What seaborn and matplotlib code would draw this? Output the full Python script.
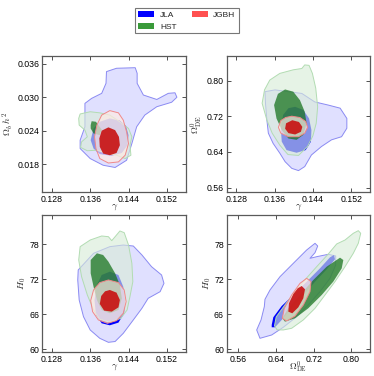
import matplotlib
matplotlib.use("Agg")
import matplotlib.pyplot as plt
from matplotlib.patches import Patch
import seaborn as sns

# --- contour outlines (data units) ---
# panel: gamma vs Omega_b h^2
TL_JLA_2S = [(0.1394, 0.0346), (0.1415, 0.0352), (0.1454, 0.0353), (0.1458, 0.0343), (0.1458, 0.0325),
             (0.1471, 0.0304), (0.1499, 0.0296), (0.1523, 0.0307), (0.1537, 0.0308), (0.1541, 0.0300),
             (0.1530, 0.0291), (0.1499, 0.0283), (0.1474, 0.0268), (0.1457, 0.0247), (0.1447, 0.0217),
             (0.1436, 0.0187), (0.1412, 0.0174), (0.1387, 0.0178), (0.1360, 0.0190), (0.1339, 0.0208),
             (0.1339, 0.0223), (0.1349, 0.0247), (0.1349, 0.0289), (0.1363, 0.0298), (0.1384, 0.0307),
             (0.1393, 0.0325)]
TL_JLA_1S = [(0.1401, 0.0262), (0.1422, 0.0258), (0.1435, 0.0248), (0.1440, 0.0232), (0.1438, 0.0214),
             (0.1426, 0.0200), (0.1405, 0.0195), (0.1380, 0.0198), (0.1367, 0.0208), (0.1361, 0.0223),
             (0.1367, 0.0244), (0.1380, 0.0256)]
TL_HST_2S = [(0.1339, 0.0270), (0.1360, 0.0274), (0.1380, 0.0272), (0.1401, 0.0268), (0.1422, 0.0256),
             (0.1440, 0.0244), (0.1447, 0.0229), (0.1443, 0.0214), (0.1445, 0.0196), (0.1433, 0.0190),
             (0.1415, 0.0196), (0.1394, 0.0199), (0.1374, 0.0205), (0.1354, 0.0204), (0.1340, 0.0210),
             (0.1342, 0.0220), (0.1354, 0.0229), (0.1349, 0.0241), (0.1337, 0.0250), (0.1336, 0.0262)]
TL_HST_1S = [(0.1363, 0.0257), (0.1372, 0.0256), (0.1377, 0.0250), (0.1384, 0.0242), (0.1380, 0.0232),
             (0.1367, 0.0235), (0.1361, 0.0244), (0.1361, 0.0250)]
TL_JGBH_2S = [(0.1401, 0.0276), (0.1419, 0.0272), (0.1429, 0.0259), (0.1436, 0.0238), (0.1440, 0.0217),
              (0.1433, 0.0196), (0.1419, 0.0184), (0.1398, 0.0182), (0.1380, 0.0190), (0.1372, 0.0208),
              (0.1369, 0.0229), (0.1374, 0.0250), (0.1384, 0.0268)]
TL_JGBH_1S = [(0.1398, 0.0246), (0.1412, 0.0241), (0.1420, 0.0229), (0.1422, 0.0214), (0.1415, 0.0200),
              (0.1401, 0.0196), (0.1387, 0.0199), (0.1380, 0.0211), (0.1379, 0.0226), (0.1384, 0.0240)]

# panel: gamma vs Omega_DE
TR_JLA_2S = [(0.1340, 0.775), (0.1361, 0.779), (0.1417, 0.771), (0.1444, 0.752), (0.1472, 0.745),
             (0.1497, 0.738), (0.1511, 0.715), (0.1511, 0.693), (0.1500, 0.674), (0.1479, 0.667),
             (0.1458, 0.652), (0.1437, 0.633), (0.1423, 0.607), (0.1410, 0.598), (0.1396, 0.603),
             (0.1382, 0.618), (0.1371, 0.637), (0.1357, 0.659), (0.1347, 0.682), (0.1344, 0.711),
             (0.1341, 0.749)]
TR_JLA_1S = [(0.1403, 0.741), (0.1420, 0.734), (0.1432, 0.715), (0.1437, 0.689), (0.1436, 0.663),
             (0.1425, 0.644), (0.1406, 0.638), (0.1385, 0.644), (0.1375, 0.663), (0.1373, 0.693),
             (0.1378, 0.723), (0.1389, 0.738)]
TR_HST_2S = [(0.1334, 0.749), (0.1339, 0.779), (0.1350, 0.801), (0.1371, 0.816), (0.1399, 0.824),
             (0.1417, 0.827), (0.1423, 0.835), (0.1432, 0.834), (0.1439, 0.816), (0.1446, 0.783),
             (0.1450, 0.741), (0.1447, 0.704), (0.1440, 0.676), (0.1429, 0.652), (0.1410, 0.632),
             (0.1388, 0.634), (0.1371, 0.655), (0.1355, 0.682), (0.1344, 0.711)]
TR_HST_1S = [(0.1382, 0.780), (0.1399, 0.775), (0.1413, 0.756), (0.1423, 0.730), (0.1427, 0.704),
             (0.1420, 0.678), (0.1406, 0.667), (0.1389, 0.670), (0.1375, 0.689), (0.1364, 0.715),
             (0.1359, 0.745), (0.1367, 0.770)]
TR_JGBH_2S = [(0.1396, 0.720), (0.1413, 0.717), (0.1425, 0.708), (0.1429, 0.695), (0.1423, 0.682),
              (0.1410, 0.674), (0.1389, 0.674), (0.1373, 0.682), (0.1368, 0.695), (0.1373, 0.710),
              (0.1383, 0.717)]
TR_JGBH_1S = [(0.1397, 0.711), (0.1411, 0.707), (0.1418, 0.696), (0.1415, 0.685), (0.1403, 0.679),
              (0.1389, 0.682), (0.1382, 0.692), (0.1384, 0.704)]

# panel: gamma vs H0
BL_JLA_2S = [(0.1335, 73.57), (0.1367, 76.43), (0.1401, 77.57), (0.1429, 77.85), (0.1450, 77.68),
             (0.1468, 76.14), (0.1488, 74.14), (0.1509, 72.71), (0.1514, 71.28), (0.1506, 69.85),
             (0.1481, 68.71), (0.1468, 67.0), (0.1450, 65.0), (0.1429, 62.7), (0.1412, 61.3),
             (0.1398, 61.16), (0.1380, 61.85), (0.1360, 63.28), (0.1346, 65.56), (0.1337, 68.42),
             (0.1334, 71.85)]
BL_JLA_1S = [(0.1401, 73.28), (0.1419, 72.71), (0.1429, 70.71), (0.1433, 68.42), (0.1431, 66.14),
             (0.1419, 64.54), (0.1401, 64.08), (0.1384, 64.42), (0.1372, 65.85), (0.1369, 68.42),
             (0.1374, 71.0), (0.1384, 72.71)]
BL_HST_2S = [(0.1339, 77.57), (0.1360, 78.71), (0.1384, 79.4), (0.1398, 79.28), (0.1405, 78.6),
             (0.1415, 79.57), (0.1422, 80.26), (0.1431, 79.97), (0.1440, 77.85), (0.1447, 74.71),
             (0.1449, 71.57), (0.1443, 69.0), (0.1437, 66.71), (0.1424, 65.28), (0.1401, 64.6),
             (0.1380, 65.11), (0.1367, 66.71), (0.1354, 69.28), (0.1342, 72.42), (0.1336, 75.28)]
BL_HST_1S = [(0.1374, 76.43), (0.1387, 76.14), (0.1398, 75.0), (0.1412, 73.0), (0.1422, 71.0),
             (0.1426, 68.71), (0.1419, 66.71), (0.1401, 66.14), (0.1384, 66.71), (0.1374, 68.42),
             (0.1367, 70.71), (0.1361, 73.0), (0.1361, 75.28)]
BL_JGBH_2S = [(0.1398, 71.85), (0.1419, 71.4), (0.1431, 70.14), (0.1435, 68.14), (0.1429, 66.14),
              (0.1415, 64.88), (0.1396, 64.42), (0.1377, 65.0), (0.1365, 66.42), (0.1361, 68.31),
              (0.1367, 70.14), (0.1380, 71.4)]
BL_JGBH_1S = [(0.1401, 70.14), (0.1415, 69.68), (0.1422, 68.42), (0.1419, 67.16), (0.1405, 66.42),
              (0.1389, 66.6), (0.1380, 67.74), (0.1383, 69.11), (0.1391, 69.91)]

# panel: Omega_DE vs H0
BR_JLA_2S = [(0.6057, 61.85), (0.5987, 63.28), (0.6079, 65.0), (0.6149, 67.28), (0.6163, 68.54),
             (0.6270, 70.14), (0.6482, 72.42), (0.6765, 74.71), (0.7049, 77.0), (0.7226, 78.14),
             (0.7283, 77.68), (0.7226, 76.54), (0.7119, 75.57), (0.7262, 75.85), (0.7508, 76.26),
             (0.7665, 75.97), (0.7665, 74.42), (0.7544, 72.14), (0.7332, 69.85), (0.7083, 67.56),
             (0.6837, 65.56), (0.6552, 63.74), (0.6306, 62.42)]
BR_JLA_1S = [(0.6306, 64.14), (0.6340, 65.46), (0.6518, 67.39), (0.6765, 69.28), (0.7049, 71.56),
             (0.7332, 73.86), (0.7544, 75.74), (0.7629, 76.14), (0.7650, 75.40), (0.7474, 73.69),
             (0.7226, 71.56), (0.6977, 69.28), (0.6731, 67.0), (0.6518, 65.0), (0.6376, 63.74),
             (0.6306, 63.74)]
BR_HST_2S = [(0.6365, 64.0), (0.6400, 65.5), (0.6570, 67.4), (0.6740, 69.2), (0.6977, 71.56),
             (0.7262, 74.14), (0.7508, 76.31), (0.7686, 78.03), (0.7863, 78.71), (0.8039, 79.86),
             (0.8145, 80.31), (0.8196, 79.86), (0.8145, 78.14), (0.8039, 76.43), (0.7863, 74.14),
             (0.7650, 71.57), (0.7438, 69.28), (0.7226, 67.0), (0.6977, 65.0), (0.6730, 63.57),
             (0.6552, 63.28), (0.6420, 63.3)]
BR_HST_1S = [(0.7757, 75.68), (0.7827, 75.28), (0.7793, 73.85), (0.7614, 71.57), (0.7368, 69.28),
             (0.7083, 67.0), (0.6801, 65.28), (0.6588, 64.7), (0.6531, 65.28), (0.6658, 67.0),
             (0.6907, 69.28), (0.7189, 71.85), (0.7474, 74.14)]
BR_JGBH_2S = [(0.7049, 72.14), (0.7141, 71.57), (0.7119, 69.85), (0.6977, 67.56), (0.6801, 65.68),
              (0.6624, 64.82), (0.6531, 65.28), (0.6573, 67.0), (0.6730, 69.28), (0.6907, 71.28)]
BR_JGBH_1S = [(0.6943, 70.82), (0.7013, 70.26), (0.6977, 68.71), (0.6871, 67.16), (0.6743, 66.14),
              (0.6658, 66.42), (0.6673, 67.86), (0.6765, 69.45), (0.6858, 70.43)]

SAMPLES = ["JLA", "HST", "JGBH"]
GAMMA_TICKS = [0.128, 0.136, 0.144, 0.152]
OMBH2_TICKS = [0.018, 0.024, 0.030, 0.036]
OMDE_TICKS = [0.56, 0.64, 0.72, 0.80]
H0_TICKS = [60, 66, 72, 78]

# --- styling per sample: (outer fill, outer alpha, outer edge, inner fill, inner alpha) ---
STYLE = {
    "JLA": ("#0000ff", 0.12, "#8a8af2", "#0000ff", 1.0),
    "HST": ("#d8ecd8", 0.62, "#b2dcb2", "#127018", 0.72),
    "JGBH": ("#ffeae4", 0.7, "#f08888", "#c81010", 0.9),
}
LEGEND_COLORS = {"JLA": "#0000ff", "HST": "#3a9a3a", "JGBH": "#ff5050"}

sns.set_style("ticks")
plt.rcParams["mathtext.fontset"] = "cm"
plt.rcParams["font.family"] = ["Liberation Sans", "DejaVu Sans"]

fig = plt.figure(figsize=(3.74, 3.76), dpi=100)

W, H = 374.0, 376.0
def add_panel(left, top, right, bottom):
    return fig.add_axes([left / W, 1 - bottom / H, (right - left) / W, (bottom - top) / H])

ax_tl = add_panel(42.3, 56, 186, 192)
ax_tr = add_panel(226.7, 56, 370.3, 192)
ax_bl = add_panel(42.3, 215, 186, 352)
ax_br = add_panel(226.7, 215, 370.3, 352)

panels = [
    (ax_tl, {"JLA": (TL_JLA_2S, TL_JLA_1S), "HST": (TL_HST_2S, TL_HST_1S), "JGBH": (TL_JGBH_2S, TL_JGBH_1S)},
     (0.126, 0.156), (0.013, 0.0374), GAMMA_TICKS, OMBH2_TICKS, "{:.3f}", "{:.3f}",
     r"$\gamma$", r"$\Omega_b\,h^2$"),
    (ax_tr, {"JLA": (TR_JLA_2S, TR_JLA_1S), "HST": (TR_HST_2S, TR_HST_1S), "JGBH": (TR_JGBH_2S, TR_JGBH_1S)},
     (0.126, 0.156), (0.55, 0.855), GAMMA_TICKS, OMDE_TICKS, "{:.3f}", "{:.2f}",
     r"$\gamma$", r"$\Omega^0_{\rm DE}$"),
    (ax_bl, {"JLA": (BL_JLA_2S, BL_JLA_1S), "HST": (BL_HST_2S, BL_HST_1S), "JGBH": (BL_JGBH_2S, BL_JGBH_1S)},
     (0.126, 0.156), (59.5, 83.0), GAMMA_TICKS, H0_TICKS, "{:.3f}", "{:.0f}",
     r"$\gamma$", r"$H_0$"),
    (ax_br, {"JLA": (BR_JLA_2S, BR_JLA_1S), "HST": (BR_HST_2S, BR_HST_1S), "JGBH": (BR_JGBH_2S, BR_JGBH_1S)},
     (0.535, 0.84), (59.5, 83.0), OMDE_TICKS, H0_TICKS, "{:.2f}", "{:.0f}",
     r"$\Omega^0_{\rm DE}$", r"$H_0$"),
]

for ax, contours, xlim, ylim, xt, yt, xfmt, yfmt, xlab, ylab in panels:
    for name in SAMPLES:
        outer, inner = contours[name]
        ofc, oal, oec, ifc, ial = STYLE[name]
        ox, oy = zip(*outer)
        ix, iy = zip(*inner)
        ax.fill(ox, oy, color=ofc, alpha=oal, lw=0)
        ax.fill(ox, oy, fill=False, edgecolor=oec, lw=0.7, joinstyle="round")
        ax.fill(ix, iy, color=ifc, alpha=ial, lw=0)
    ax.set_xlim(*xlim)
    ax.set_ylim(*ylim)
    ax.set_xticks(xt)
    ax.set_yticks(yt)
    ax.set_xticklabels([xfmt.format(v) for v in xt])
    ax.set_yticklabels([yfmt.format(v) for v in yt])
    ax.tick_params(direction="in", top=True, right=True, length=3, width=0.6,
                   labelsize=6.3, pad=2, colors="#333333", labelcolor="black")
    for sp in ax.spines.values():
        sp.set_color("#5a5a5a")
        sp.set_linewidth(0.9)
    ax.set_xlabel(xlab, fontsize=7, labelpad=-1.5)
    ax.set_ylabel(ylab, fontsize=7, labelpad=1)

# the Omega_DE label sits right at the bottom edge, pull it up a bit
ax_br.set_xlabel(r"$\Omega^0_{\rm DE}$", fontsize=6.6, labelpad=-3)

handles = [Patch(facecolor=LEGEND_COLORS[s], edgecolor="none", label=s) for s in SAMPLES]
leg = fig.legend(handles=handles, loc="upper center", bbox_to_anchor=(0.5, 0.99), ncol=2,
                 fontsize=6, frameon=True, fancybox=False, handlelength=1.9, handleheight=0.75,
                 columnspacing=1.8, borderpad=0.35, labelspacing=0.45, handletextpad=0.7)
leg.get_frame().set_edgecolor("#555555")
leg.get_frame().set_linewidth(0.8)

fig.savefig("out.png", dpi=100)
